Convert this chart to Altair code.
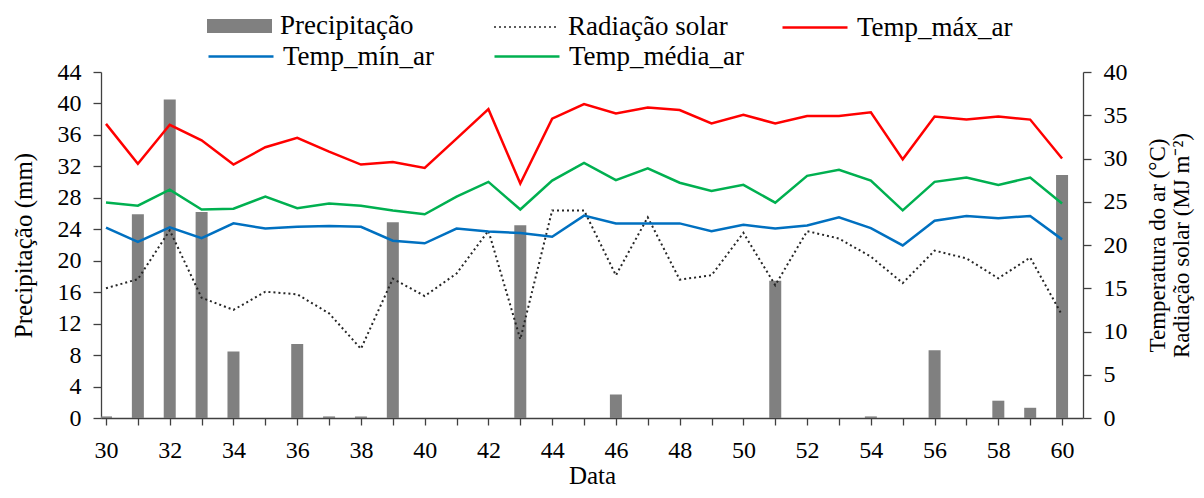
import altair as alt
import pandas as pd

days = list(range(30, 61))
precip = [0.2, 25.9, 40.5, 26.2, 8.45, 0, 9.4, 0.2, 0.2, 24.9, 0,
          0, 0, 24.5, 0, 0, 3.0, 0, 0, 0, 0,
          17.45, 0, 0, 0.2, 0, 8.6, 0, 2.2, 1.3, 30.9]
rad = [15.0, 16.05, 21.7, 13.9, 12.5, 14.6, 14.3, 12.1, 8.0, 16.1, 14.1,
       16.7, 21.65, 9.1, 24.0, 24.0, 16.5, 23.2, 16.0, 16.5, 21.4,
       15.35, 21.6, 20.75, 18.65, 15.6, 19.35, 18.45, 16.15, 18.55, 11.9]
tmax = [34.0, 29.4, 33.9, 32.1, 29.3, 31.3, 32.4, 30.8, 29.3, 29.6, 28.9,
        32.3, 35.7, 27.1, 34.6, 36.3, 35.2, 35.9, 35.6, 34.05, 35.05,
        34.05, 34.9, 34.9, 35.35, 29.9, 34.85, 34.5, 34.85, 34.5, 30.0]
tmin = [22.0, 20.35, 22.05, 20.8, 22.5, 21.9, 22.1, 22.2, 22.1, 20.5, 20.2,
        21.9, 21.55, 21.4, 20.95, 23.4, 22.5, 22.5, 22.5, 21.6, 22.35,
        21.9, 22.25, 23.2, 21.95, 19.95, 22.8, 23.35, 23.1, 23.35, 20.65]
tmean = [24.9, 24.55, 26.4, 24.1, 24.2, 25.6, 24.25, 24.8, 24.55, 24.0, 23.55,
         25.6, 27.3, 24.1, 27.45, 29.5, 27.5, 28.85, 27.2, 26.25, 26.95,
         24.9, 28.0, 28.7, 27.45, 24.0, 27.3, 27.8, 26.95, 27.8, 24.8]

left_ticks = list(range(0, 45, 4))
right_ticks = list(range(0, 41, 5))

df = pd.DataFrame({"dia": days, "precip": precip, "rad": rad,
                   "tmax": tmax, "tmin": tmin, "tmean": tmean})

W, H = 982, 346
FONT = "Liberation Serif"
AX = "#404040"
TICK_FS = 24
TITLE_FS = 25

x_enc = alt.X(
    "dia:Q",
    scale=alt.Scale(domain=[30, 60.5], nice=False, zero=False),
    axis=alt.Axis(values=days, labelExpr="datum.value % 2 == 0 ? datum.label : ''",
                  title="Data", grid=False, tickSize=7, labelPadding=13,
                  labelFontSize=TICK_FS, titleFontSize=TITLE_FS, titleY=57,
                  titleBaseline="middle", titleFontWeight="normal"),
)


def mk_legend(lx, ly, stype="stroke", dash=None, sw=2.5):
    kw = dict(orient="none", legendX=lx, legendY=ly, title=None,
              symbolType=stype, symbolSize=4225, symbolStrokeWidth=sw,
              labelFont=FONT, labelFontSize=27, labelColor="black",
              labelOffset=8, labelLimit=400, padding=0, symbolOpacity=1)
    if dash:
        kw["symbolDash"] = dash
    return alt.Legend(**kw)


base = alt.Chart(df)

bars = base.transform_calculate(s="'Precipitação'").mark_bar(size=12, clip=True).encode(
    x=x_enc,
    y=alt.Y("precip:Q", scale=alt.Scale(domain=[0, 44], nice=False),
            axis=alt.Axis(orient="left", values=left_ticks, grid=False, tickSize=8,
                          labelPadding=12, labelFontSize=TICK_FS, title="Precipitação (mm)",
                          titleFontSize=TITLE_FS, titleX=-78, titleBaseline="middle",
                          titleFontWeight="normal")),
    fill=alt.Fill("s:N", scale=alt.Scale(domain=["Precipitação"], range=["#808080"]),
                  legend=mk_legend(106, -78.5, stype="M-1,-0.215H1V0.215H-1Z", sw=0)),
)


def line_layer(field, name, color, lx, ly, dash=None, sw=2.5, axis=None):
    mk = dict(strokeWidth=sw)
    if dash:
        mk["strokeDash"] = dash
    y_kw = dict(scale=alt.Scale(domain=[0, 40], nice=False))
    if axis is not None:
        y_kw["axis"] = axis
    else:
        y_kw["axis"] = None
    return base.transform_calculate(s="'" + name + "'").mark_line(**mk).encode(
        x=x_enc,
        y=alt.Y(field + ":Q", **y_kw),
        color=alt.Color("s:N", scale=alt.Scale(domain=[name], range=[color]),
                        legend=mk_legend(lx, ly, dash=dash, sw=(1.5 if dash else sw))),
    )


right_axis = alt.Axis(orient="right", values=right_ticks, grid=False, tickSize=8,
                      labelPadding=12, labelFontSize=TICK_FS,
                      title=["Temperatura do ar (°C)", "Radiação solar (MJ m⁻²)"],
                      titleFontSize=23, titleAngle=270, titleBaseline="top",
                      titleX=63, titleLineHeight=24, titleFontWeight="normal")

l_rad = line_layer("rad", "Radiação solar", "#262626", 392, -78.5, dash=[2, 3], sw=2)
l_max = line_layer("tmax", "Temp_máx_ar", "#FF0000", 680, -78.5, axis=right_axis)
l_min = line_layer("tmin", "Temp_mín_ar", "#0070C0", 106, -49.5)
l_mean = line_layer("tmean", "Temp_média_ar", "#00B050", 392, -49.5)

chart = alt.layer(bars, l_rad, l_max, l_min, l_mean).resolve_scale(
    y="independent", color="independent", fill="independent"
).properties(
    width=W, height=H,
    padding={"left": 93, "top": 64, "right": 113, "bottom": 72},
    autosize=alt.AutoSizeParams(type="none"),
).configure_view(stroke="transparent").configure_axis(
    labelFont=FONT, titleFont=FONT, labelColor="black", titleColor="black",
    domainColor=AX, tickColor=AX, domainWidth=1.3, tickWidth=1.3,
)

chart.save("out.html", embed_options={"renderer": "svg", "actions": False})
